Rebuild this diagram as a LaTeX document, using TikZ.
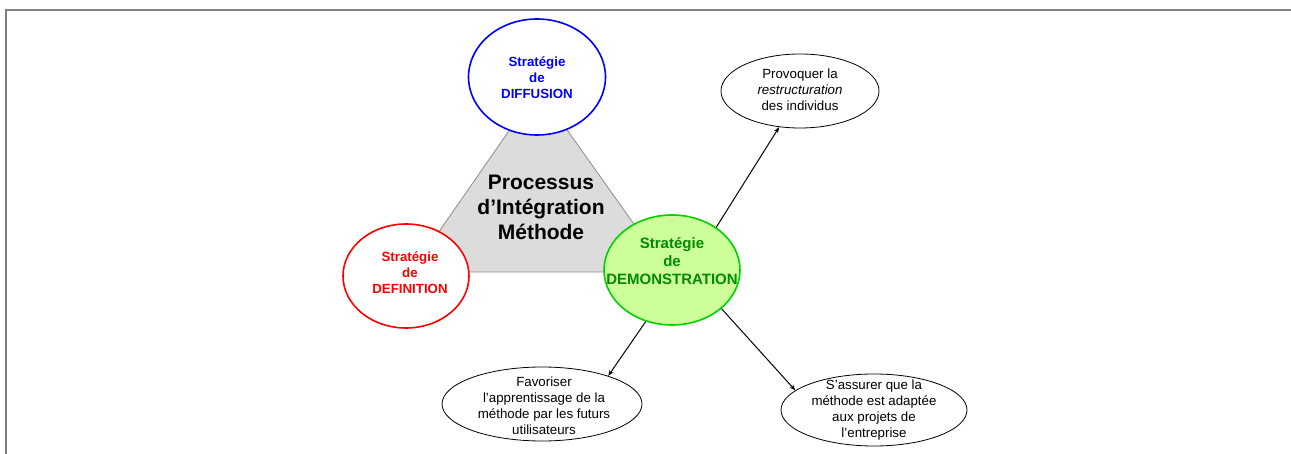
\documentclass[tikz,border=0pt]{standalone}
\usepackage{fontspec}
\setmainfont{Liberation Sans}
\usetikzlibrary{shapes.geometric,arrows.meta}
\definecolor{framegray}{RGB}{128,128,128}
\definecolor{trifill}{RGB}{220,220,220}
\definecolor{tridraw}{RGB}{140,140,140}
\definecolor{difblue}{RGB}{0,0,255}
\definecolor{defred}{RGB}{255,0,0}
\definecolor{demoline}{RGB}{0,210,0}
\definecolor{demofill}{RGB}{204,255,153}
\definecolor{demotext}{RGB}{0,140,0}
\tikzset{
  ell/.style={ellipse, inner sep=0pt, fill=white},
  strat/.style={ell, line width=1.6pt},
  goal/.style={ell, draw=black, line width=0.8pt},
  smalltxt/.style={align=center, inner sep=0pt, font=\fontsize{13.3}{16}\selectfont},
  strattxt/.style={align=center, inner sep=0pt, font=\bfseries\fontsize{13.3}{16}\selectfont},
  conn/.style={draw=black, line width=1pt, -{Stealth[length=6pt,width=4.5pt]}}
}
\begin{document}
\begin{tikzpicture}[x=1pt,y=-1pt]
\useasboundingbox (0,0) rectangle (1291,454);
\draw[framegray, line width=2pt] (6,454) -- (6,10) -- (1291,10);

% triangle
\filldraw[fill=trifill, draw=tridraw, line width=0.8pt] (411,272) -- (668,272) -- (538,89) -- cycle;

% strategy ellipses
\node[strat, draw=difblue, minimum width=137pt, minimum height=116pt] (dif) at (537,77) {};
\node[strat, draw=defred, minimum width=126pt, minimum height=104pt] (def) at (406,276) {};
\node[strat, draw=demoline, fill=demofill, minimum width=136pt, minimum height=110pt] (demo) at (672,270) {};

\node[strattxt, text=difblue] (dift) at (537,78) {Stratégie\\de\\DIFFUSION};
\node[strattxt, text=defred] (deft) at (410,273) {Stratégie\\de\\DEFINITION};
\node[align=center, inner sep=0pt, font=\bfseries\fontsize{15}{18}\selectfont, text=demotext] (demot) at (672,261) {Stratégie\\de\\DEMONSTRATION};

\node[align=center, inner sep=0pt, font=\bfseries\fontsize{21}{25}\selectfont] (proc) at (541,207) {Processus\\d’Intégration\\Méthode};

% goal ellipses
\node[goal, minimum width=158pt, minimum height=74pt] (prov) at (800,91) {};
\node[goal, minimum width=200pt, minimum height=74pt] (fav) at (542,404) {};
\node[goal, minimum width=186pt, minimum height=72pt] (ass) at (874,410) {};

\node[smalltxt] (provt) at (800,90) {Provoquer la\\\textit{restructuration}\\des individus};
\node[smalltxt] (favt) at (544,406) {Favoriser\\l'apprentissage de la\\méthode par les futurs\\utilisateurs};
\node[smalltxt] (asst) at (874,410) {S’assurer que la\\méthode est adaptée\\aux projets de\\l’entreprise};

% connectors
\draw[conn] (demo.44) -- (prov.240);
\draw[conn] (demo.243) -- (fav.23);
\draw[conn] (demo.322) -- (ass.166);
\end{tikzpicture}
\end{document}
